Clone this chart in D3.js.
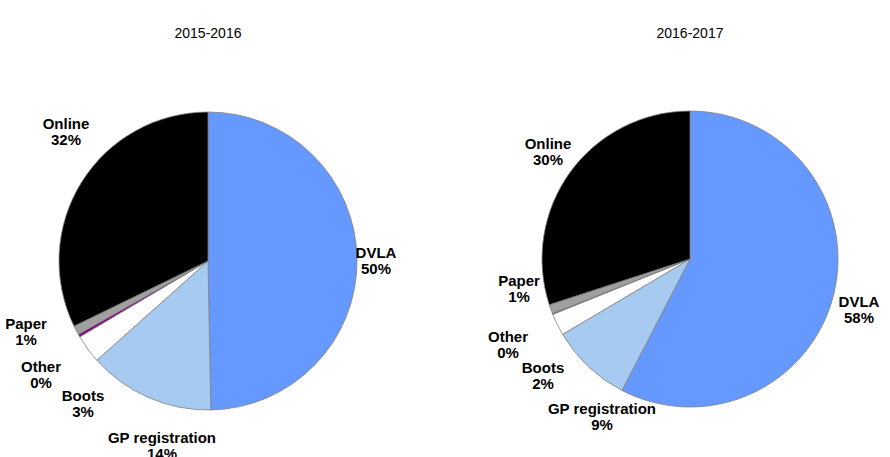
<!DOCTYPE html>
<html>
<head>
<meta charset="utf-8">
<script src="https://cdn.jsdelivr.net/npm/d3@7"></script>
<style>
  body { margin: 0; background: #fff; }
  svg text { font-family: "Liberation Sans", Arial, sans-serif; }
</style>
</head>
<body>
<div id="chart"></div>
<script>
// Categories in drawing order (clockwise from 12 o'clock)
const categories = ["DVLA", "GP registration", "Boots", "Other", "Paper", "Online"];
const years = ["2015-2016", "2016-2017"];

// Shares in percent
const values2015 = [49.7, 13.7, 3.1, 0.3, 1.0, 32.2];
const values2016 = [57.6, 8.9, 2.4, 0.1, 1.0, 30.0];

// Rounded labels as printed
const labels2015 = ["50%", "14%", "3%", "0%", "1%", "32%"];
const labels2016 = ["58%", "9%", "2%", "0%", "1%", "30%"];

const width = 890;
const height = 457;

const colors = d3.scaleOrdinal()
  .domain(categories)
  .range(["#6699ff", "#a6caf0", "#ffffff", "#800080", "#a0a0a0", "#000000"]);

const svg = d3.select("#chart")
  .append("svg")
  .attr("width", width)
  .attr("height", height);

// Pie layouts: center, radius, and label placement (offsets from center)
const pies = [
  {
    title: years[0], values: values2015, labels: labels2015,
    cx: 208, cy: 261, r: 149,
    labelPos: [[168, -8], [-46, 177], [-125, 135], [-167, 106], [-182, 63], [-142, -137]]
  },
  {
    title: years[1], values: values2016, labels: labels2016,
    cx: 690, cy: 259, r: 148,
    labelPos: [[169, 43], [-88, 150], [-147, 109], [-182, 78], [-171, 22], [-142, -115]]
  }
];

const pie = d3.pie().sort(null).value(d => d.value);

pies.forEach(p => {
  const data = categories.map((c, i) => ({ name: c, value: p.values[i], label: p.labels[i] }));
  const arcs = pie(data);
  const arc = d3.arc().innerRadius(0).outerRadius(p.r);

  svg.append("text")
    .attr("x", p.cx)
    .attr("y", 38)
    .attr("text-anchor", "middle")
    .attr("font-size", 14)
    .attr("fill", "#000")
    .text(p.title);

  const g = svg.append("g")
    .attr("transform", `translate(${p.cx},${p.cy})`);

  g.selectAll("path")
    .data(arcs)
    .join("path")
    .attr("d", arc)
    .attr("fill", d => colors(d.data.name))
    .attr("stroke", "#808080")
    .attr("stroke-width", 0.8);

  const lbl = g.selectAll("text.lbl")
    .data(arcs)
    .join("text")
    .attr("class", "lbl")
    .attr("text-anchor", "middle")
    .attr("font-size", 15)
    .attr("font-weight", "bold")
    .attr("fill", "#000")
    .attr("transform", (d, i) => `translate(${p.labelPos[i][0]},${p.labelPos[i][1]})`);

  lbl.append("tspan")
    .attr("x", 0)
    .attr("dy", "0.35em")
    .text(d => d.data.name);
  lbl.append("tspan")
    .attr("x", 0)
    .attr("dy", 16)
    .text(d => d.data.label);
});
</script>
</body>
</html>
